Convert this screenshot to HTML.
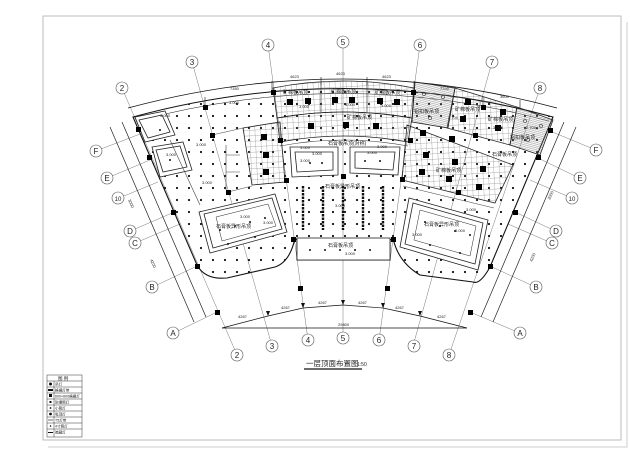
<!DOCTYPE html>
<html><head><meta charset="utf-8"><style>
html,body{margin:0;padding:0;background:#fff;}
svg{display:block}
text{font-family:"Liberation Sans","Noto Sans CJK SC",sans-serif;fill:#222}
</style></head><body>
<svg width="630" height="453" viewBox="0 0 630 453" xmlns="http://www.w3.org/2000/svg">
<defs>
<pattern id="dots" width="12" height="12" patternUnits="userSpaceOnUse" x="3" y="2"><circle cx="6" cy="6" r="1.1" fill="#111"/></pattern>
<pattern id="grid" width="5.5" height="5.5" patternUnits="userSpaceOnUse" patternTransform="rotate(-3)"><path d="M0 0H5.5M0 0V5.5" stroke="#666" stroke-width="0.5" fill="none"/></pattern>
<pattern id="hatch" width="4" height="1.8" patternUnits="userSpaceOnUse" patternTransform="rotate(15)"><path d="M0 0.5H4" stroke="#888" stroke-width="0.5"/></pattern>
</defs>
<rect width="630" height="453" fill="#fff"/>
<!-- frame -->
<rect x="43" y="16" width="578" height="424" fill="none" stroke="#bbb" stroke-width="1"/>
<path d="M48 447H627V22" fill="none" stroke="#ccc" stroke-width="1"/>

<!-- axis lines -->
<g stroke="#777" stroke-width="0.5" fill="none">
<line x1="122" y1="88" x2="237" y2="355"/>
<line x1="192" y1="62" x2="272" y2="346"/>
<line x1="268" y1="45" x2="308" y2="340"/>
<line x1="343" y1="42" x2="343" y2="338"/>
<line x1="420" y1="45" x2="379" y2="340"/>
<line x1="492" y1="62" x2="413" y2="346"/>
<line x1="540" y1="88" x2="449" y2="355"/>
<!-- letter leaders left -->
<line x1="101" y1="149" x2="140" y2="134"/>
<line x1="112" y1="176" x2="150" y2="160"/>
<line x1="124" y1="196" x2="158" y2="182"/>
<line x1="135" y1="229" x2="172" y2="213"/>
<line x1="140" y1="241" x2="180" y2="224"/>
<line x1="157" y1="285" x2="197" y2="266"/>
<line x1="178" y1="331" x2="217" y2="312"/>
<!-- right -->
<line x1="591" y1="148" x2="550" y2="131"/>
<line x1="575" y1="176" x2="538" y2="158"/>
<line x1="567" y1="196" x2="530" y2="180"/>
<line x1="551" y1="229" x2="515" y2="212"/>
<line x1="547" y1="241" x2="508" y2="224"/>
<line x1="531" y1="285" x2="490" y2="266"/>
<line x1="515" y1="331" x2="470" y2="312"/>
</g>
<!-- side dimension lines -->
<g stroke="#222" stroke-width="0.7" fill="none">
<line x1="122" y1="122" x2="206" y2="317"/>
<line x1="110" y1="127" x2="194" y2="322"/>
<line x1="564" y1="122" x2="481" y2="317"/>
<line x1="576" y1="127" x2="493" y2="322"/>
</g>
<g font-size="4" fill="#444">
<text x="128" y="200" transform="rotate(66 128 200)">3000</text>
<text x="150" y="260" transform="rotate(66 150 260)">4200</text>
<text x="550" y="200" transform="rotate(-66 550 200)">3000</text>
<text x="532" y="262" transform="rotate(-66 532 262)">4200</text>
</g>

<!-- building body with dots -->
<path d="M133,117 Q343,60 553,117 L490,267 Q480,285 473,282 L420,275 Q398,262 393,238 L390,240 L390,260 L297,260 L297,240 L295,238 Q290,262 275,267 L227,278 Q205,280 197,265 Z" fill="url(#dots)" stroke="#111" stroke-width="1.1"/>
<path d="M128,108 Q343,50 557,108" fill="none" stroke="#111" stroke-width="0.8"/>
<path d="M137,121 Q343,66 549,121" fill="none" stroke="#111" stroke-width="0.5"/>
<g stroke="#111" stroke-width="0.6">
<line x1="205" y1="97" x2="205" y2="106"/><line x1="272" y1="81" x2="272" y2="90"/><line x1="321" y1="77" x2="321" y2="85"/><line x1="367" y1="77" x2="367" y2="85"/><line x1="414" y1="81" x2="414" y2="90"/><line x1="483" y1="97" x2="483" y2="106"/><line x1="520" y1="100" x2="520" y2="108"/>
</g>
<g font-size="4" fill="#444"><text x="230" y="90">7350</text><text x="290" y="78">4623</text><text x="336" y="75">4623</text><text x="382" y="78">4623</text><text x="440" y="90">7350</text><text x="500" y="98">3600</text></g>

<!-- top bands -->
<path d="M273,88 Q343,74 414,88 L412,118 Q343,106 277,118 Z" fill="url(#grid)" stroke="#222" stroke-width="0.8"/>
<line x1="321" y1="82" x2="321" y2="112" stroke="#222" stroke-width="0.6"/>
<line x1="367" y1="82" x2="367" y2="112" stroke="#222" stroke-width="0.6"/>
<path d="M277,118 Q343,106 412,118 L408,142 Q343,130 280,142 Z" fill="url(#grid)" stroke="#222" stroke-width="0.8"/>
<path d="M280,146 Q343,134 408,146" fill="none" stroke="#444" stroke-width="0.6"/>
<!-- left grid room -->
<path d="M243,128 L280,122 L285,182 L252,185 Z" fill="url(#grid)" stroke="#222" stroke-width="0.8"/>
<!-- right grid rooms -->
<path d="M407,125 L513,165 L495,203 L402,180 Z" fill="url(#grid)" stroke="#222" stroke-width="0.8"/>
<path d="M403,186 L494,208" stroke="#444" stroke-width="0.6"/>
<path d="M455,88 L517,107 L510,145 L447,128 Z" fill="url(#grid)" stroke="#222" stroke-width="0.8"/>
<path d="M415,82 L455,88 L448,128 L412,122 Z" fill="url(#hatch)" stroke="#222" stroke-width="0.8"/>
<path d="M517,107 L553,120 L540,155 L510,145 Z" fill="url(#hatch)" stroke="#222" stroke-width="0.8"/>
<!-- central rects -->
<g fill="#fff" stroke="#222" stroke-width="0.8">
<path d="M290,147 L338,147 L338,175 L292,177 Z"/>
<path d="M295,152 L333,152 L333,170 L297,172 Z" fill="none"/>
<path d="M350,147 L400,147 L398,175 L350,173 Z"/>
<path d="M355,152 L395,152 L393,170 L355,168 Z" fill="none"/>
<rect x="297" y="238" width="93" height="22"/>
</g>
<g fill="#111"><circle cx="310" cy="163" r="1"/><circle cx="322" cy="163" r="1"/><circle cx="365" cy="161" r="1"/><circle cx="380" cy="161" r="1"/><circle cx="310" cy="250" r="1"/><circle cx="325" cy="250" r="1"/><circle cx="340" cy="250" r="1"/><circle cx="355" cy="250" r="1"/><circle cx="370" cy="250" r="1"/></g>
<!-- strips -->
<g stroke="#111" stroke-width="2.4" stroke-dasharray="2.5 1">
<line x1="303" y1="186" x2="303" y2="230"/><line x1="323" y1="186" x2="323" y2="230"/><line x1="343" y1="186" x2="343" y2="230"/><line x1="363" y1="186" x2="363" y2="230"/><line x1="383" y1="186" x2="383" y2="230"/>
</g>
<!-- left small rooms -->
<g fill="#fff" stroke="#222" stroke-width="0.8">
<path d="M135,117 L165,111 L175,135 L145,142 Z"/>
<path d="M139,120 L162,115 L170,132 L148,138 Z" fill="none"/>
<path d="M152,147 L183,142 L192,170 L160,177 Z"/>
<path d="M156,150 L180,146 L187,167 L163,172 Z" fill="none"/>
<!-- big rooms -->
<path d="M199,212 L275,194 L287,232 L210,253 Z"/>
<path d="M204,214 L272,198 L282,229 L213,248 Z" fill="none"/>
<path d="M216,217 L268,204 L276,226 L222,241 Z" fill="none" stroke-width="0.5"/>
<path d="M409,198 L488,220 L478,270 L400,247 Z"/>
<path d="M413,203 L483,223 L475,264 L405,244 Z" fill="none"/>
<path d="M420,210 L476,226 L470,256 L414,240 Z" fill="none" stroke-width="0.5"/>
</g>
<g fill="#111"><circle cx="220" cy="230" r="1"/><circle cx="235" cy="226" r="1"/><circle cx="250" cy="222" r="1"/><circle cx="265" cy="218" r="1"/><circle cx="228" cy="244" r="1"/><circle cx="255" cy="237" r="1"/><circle cx="425" cy="222" r="1"/><circle cx="440" cy="226" r="1"/><circle cx="455" cy="231" r="1"/><circle cx="470" cy="235" r="1"/><circle cx="430" cy="245" r="1"/><circle cx="460" cy="253" r="1"/><circle cx="160" cy="130" r="1"/><circle cx="170" cy="160" r="1"/></g>
<!-- left interior partitions -->
<g stroke="#444" stroke-width="0.6" fill="none">
<path d="M212,135 L243,128"/><path d="M228,192 L252,186"/>
<path d="M226,145 V190 M226,155 H240 M226,172 H240"/>
<path d="M170,140 L200,205"/>
</g>
<!-- columns -->
<g fill="#000">
<rect x="271" y="90" width="5" height="5"/><rect x="411" y="90" width="5" height="5"/><rect x="278" y="138" width="5" height="5"/><rect x="408" y="138" width="5" height="5"/><rect x="210" y="133" width="5" height="5"/><rect x="226" y="190" width="5" height="5"/><rect x="284" y="178" width="5" height="5"/><rect x="341" y="174" width="5" height="5"/><rect x="291" y="237" width="5" height="5"/><rect x="391" y="237" width="5" height="5"/><rect x="400" y="177" width="5" height="5"/><rect x="456" y="190" width="5" height="5"/><rect x="473" y="133" width="5" height="5"/><rect x="481" y="105" width="5" height="5"/><rect x="548" y="128" width="5" height="5"/><rect x="536" y="155" width="5" height="5"/><rect x="513" y="210" width="5" height="5"/><rect x="488" y="264" width="5" height="5"/><rect x="195" y="264" width="5" height="5"/><rect x="171" y="210" width="5" height="5"/><rect x="147" y="155" width="5" height="5"/><rect x="136" y="127" width="5" height="5"/><rect x="203" y="105" width="5" height="5"/><rect x="215" y="310" width="5" height="5"/><rect x="468" y="310" width="5" height="5"/><rect x="298" y="286" width="5" height="5"/><rect x="385" y="286" width="5" height="5"/>
<!-- lamps in grid -->
<rect x="287" y="99" width="6" height="6"/><rect x="305" y="98" width="6" height="6"/><rect x="332" y="97" width="6" height="6"/><rect x="349" y="97" width="6" height="6"/><rect x="377" y="98" width="6" height="6"/><rect x="394" y="99" width="6" height="6"/>
<rect x="308" y="123" width="6" height="6"/><rect x="343" y="122" width="6" height="6"/><rect x="373" y="123" width="6" height="6"/>
<rect x="261" y="134" width="6" height="6"/><rect x="263" y="152" width="6" height="6"/><rect x="263" y="169" width="6" height="6"/>
<rect x="420" y="130" width="6" height="6"/><rect x="449" y="136" width="6" height="6"/><rect x="423" y="152" width="6" height="6"/><rect x="452" y="159" width="6" height="6"/><rect x="480" y="166" width="6" height="6"/><rect x="419" y="169" width="6" height="6"/><rect x="446" y="176" width="6" height="6"/><rect x="476" y="184" width="6" height="6"/>
<rect x="465" y="99" width="6" height="6"/><rect x="500" y="109" width="6" height="6"/><rect x="460" y="116" width="6" height="6"/><rect x="495" y="125" width="6" height="6"/>
</g>
<g fill="none" stroke="#333" stroke-width="0.6"><circle cx="424" cy="94" r="1.6"/><circle cx="443" cy="97" r="1.6"/><circle cx="430" cy="118" r="1.6"/><circle cx="525" cy="121" r="1.6"/><circle cx="541" cy="126" r="1.6"/><circle cx="528" cy="140" r="1.6"/></g>

<!-- room labels -->
<g font-size="5">
<text x="283" y="94">矿棉板吊顶</text><text x="331" y="93">矿棉板吊顶</text><text x="375" y="94">矿棉板吊顶</text>
<text x="347" y="119">矿棉板吊顶</text><text x="328" y="145">石膏板吊顶(对称)</text>
<text x="325" y="188">石膏板异形吊顶</text><text x="328" y="247">石膏板吊顶</text>
<text x="216" y="228">石膏板异形吊顶</text><text x="424" y="226">石膏板异形吊顶</text>
<text x="436" y="172">矿棉板吊顶</text><text x="414" y="113">铝扣板吊顶</text><text x="455" y="111">矿棉板吊顶</text>
<text x="488" y="121">矿棉板吊顶</text><text x="510" y="139">铝扣板吊顶</text><text x="492" y="156">石膏板吊顶</text>
</g>
<g font-size="4" fill="#333">
<text x="229" y="104">3.000</text><text x="299" y="108">3.000</text><text x="345" y="106">3.000</text><text x="381" y="107">3.000</text><text x="448" y="119">2.700</text><text x="493" y="129">3.000</text><text x="526" y="129">2.700</text>
<text x="300" y="149">3.000</text><text x="377" y="148">3.000</text><text x="312" y="155">3.000</text><text x="367" y="154">3.000</text><text x="335" y="207">3.000</text>
<text x="300" y="162">3.000</text><text x="240" y="218">3.000</text><text x="263" y="224">3.000</text><text x="412" y="236">3.000</text><text x="455" y="232">3.000</text><text x="345" y="255">3.000</text>
<text x="196" y="146">3.000</text><text x="202" y="184">3.000</text><text x="160" y="117">3.000</text><text x="166" y="156">3.000</text><text x="466" y="211">3.000</text>
</g>

<!-- bottom dimension -->
<g stroke="#111" stroke-width="0.7" fill="none">
<polyline points="222,328 268,316 303,308 343,305 383,308 420,316 467,328"/>
<line x1="222" y1="328" x2="467" y2="328"/>
</g>
<g fill="#111"><path d="M301,303 l2,5 l2,-5z"/><path d="M341,300 l2,5 l2,-5z"/><path d="M381,303 l2,5 l2,-5z"/><path d="M266,311 l2,5 l2,-5z"/><path d="M418,311 l2,5 l2,-5z"/></g>
<g font-size="4" fill="#444"><text x="238" y="318">4267</text><text x="281" y="309">4267</text><text x="318" y="304">4267</text><text x="358" y="304">4267</text><text x="395" y="309">4267</text><text x="437" y="318">4267</text><text x="338" y="326">29800</text></g>

<!-- axis circles -->
<g fill="#fff" stroke="#555" stroke-width="0.6">
<circle cx="122" cy="88" r="6"/><circle cx="192" cy="62" r="6"/><circle cx="268" cy="45" r="6"/><circle cx="343" cy="42" r="6"/><circle cx="420" cy="45" r="6"/><circle cx="492" cy="62" r="6"/><circle cx="540" cy="88" r="6"/>
<circle cx="237" cy="355" r="6"/><circle cx="272" cy="346" r="6"/><circle cx="308" cy="340" r="6"/><circle cx="343" cy="338" r="6"/><circle cx="379" cy="340" r="6"/><circle cx="414" cy="346" r="6"/><circle cx="449" cy="355" r="6"/>
<circle cx="96" cy="151" r="6"/><circle cx="107" cy="178" r="6"/><circle cx="118" cy="198" r="6"/><circle cx="130" cy="231" r="6"/><circle cx="135" cy="243" r="6"/><circle cx="152" cy="287" r="6"/><circle cx="173" cy="333" r="6"/>
<circle cx="596" cy="150" r="6"/><circle cx="580" cy="178" r="6"/><circle cx="572" cy="198" r="6"/><circle cx="556" cy="231" r="6"/><circle cx="552" cy="243" r="6"/><circle cx="536" cy="287" r="6"/><circle cx="520" cy="333" r="6"/>
</g>
<g font-size="8" text-anchor="middle" fill="#444">
<text x="122" y="91">2</text><text x="192" y="65">3</text><text x="268" y="48">4</text><text x="343" y="45">5</text><text x="420" y="48">6</text><text x="492" y="65">7</text><text x="540" y="91">8</text>
<text x="237" y="358">2</text><text x="272" y="349">3</text><text x="308" y="343">4</text><text x="343" y="341">5</text><text x="379" y="343">6</text><text x="414" y="349">7</text><text x="449" y="358">8</text>
<text x="96" y="154">F</text><text x="107" y="181">E</text><text x="118" y="201" font-size="6">10</text><text x="130" y="234">D</text><text x="135" y="246">C</text><text x="152" y="290">B</text><text x="173" y="336">A</text>
<text x="596" y="153">F</text><text x="580" y="181">E</text><text x="572" y="201" font-size="6">10</text><text x="556" y="234">D</text><text x="552" y="246">C</text><text x="536" y="290">B</text><text x="520" y="336">A</text>
</g>

<!-- title -->
<text x="306" y="366" font-size="7.5" fill="#333">一层顶面布置图</text><text x="357" y="366" font-size="5" fill="#333">1:50</text>
<line x1="304" y1="369" x2="362" y2="369" stroke="#111" stroke-width="1.3"/>

<!-- legend -->
<g stroke="#333" stroke-width="0.5" fill="none">
<rect x="47" y="375" width="35" height="62"/>
<line x1="47" y1="381" x2="82" y2="381"/>
<line x1="47" y1="387" x2="82" y2="387"/><line x1="47" y1="393" x2="82" y2="393"/><line x1="47" y1="399" x2="82" y2="399"/><line x1="47" y1="405" x2="82" y2="405"/><line x1="47" y1="411" x2="82" y2="411"/><line x1="47" y1="417" x2="82" y2="417"/><line x1="47" y1="423" x2="82" y2="423"/><line x1="47" y1="429" x2="82" y2="429"/>
<line x1="54" y1="381" x2="54" y2="437"/>
</g>
<g fill="#111"><circle cx="50.5" cy="384" r="1.5"/><rect x="48" y="389" width="5" height="2"/><rect x="49" y="394" width="3" height="3"/><rect x="49.5" y="401" width="2" height="2"/><circle cx="50.5" cy="408" r="0.9"/><circle cx="50.5" cy="414" r="1.4"/><rect x="48" y="419.7" width="5" height="0.6"/><circle cx="50.5" cy="426" r="0.8"/><rect x="48" y="432" width="5" height="1"/></g>
<g font-size="3.6" fill="#333">
<text x="58" y="380" font-size="4.5">图 例</text>
<text x="55" y="385.5">吊灯</text><text x="55" y="391.5">格栅灯带</text><text x="55" y="397.5">600×600格栅灯</text><text x="55" y="403.5">防爆筒灯</text><text x="55" y="409.5">小筒灯</text><text x="55" y="415.5">吸顶灯</text><text x="55" y="421.5">T5灯带</text><text x="55" y="427.5">4寸筒灯</text><text x="55" y="433.5">暗藏灯</text>
</g>
</svg>
</body></html>
